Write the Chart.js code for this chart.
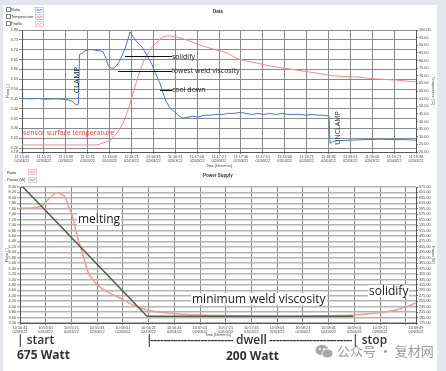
<!DOCTYPE html>
<html><head><meta charset="utf-8">
<script src="https://cdn.jsdelivr.net/npm/chart.js@4"></script>
<style>
html,body{margin:0;padding:0;background:#e3e6ea;width:446px;height:371px;overflow:hidden;position:relative;font-family:'Open Sans',sans-serif}
#panel{position:absolute;left:3px;top:5px;width:434px;height:366px;background:#fff}
canvas{position:absolute;left:0}
.t{position:absolute;white-space:nowrap;line-height:1;color:#1a1a1a}
.lg{position:absolute;font-family:'Liberation Sans',sans-serif;font-size:4px;color:#333;white-space:nowrap;line-height:1}
.cb{position:absolute;width:2.5px;height:2.5px;border:0.6px solid #888;background:#fff}
.ic{position:absolute}
.hl{position:absolute;height:1px;background:#111}
.wb{background:#fff;padding:0 1px}
.big{font-size:12px;color:#333}
.bold{font-weight:700}
.semi{font-weight:600}
.dash{position:absolute;overflow:hidden;white-space:nowrap;line-height:1;font-size:12px;color:#333;font-weight:600;letter-spacing:-0.5px}
</style>
</head><body>
<div id="panel"></div>
<canvas id="topChart" width="438" height="168" style="top:0"></canvas>
<canvas id="botChart" width="438" height="172" style="top:168px"></canvas>

<!-- top legend -->
<div class="cb" style="left:6px;top:7px"></div><div class="lg" style="left:11px;top:7.5px">Ratio</div>
<svg class="ic" style="left:35px;top:6.5px" width="9" height="6"><rect x="0.5" y="0.5" width="8" height="5" fill="#f4f7fc" stroke="#9fb2cf" stroke-width="0.6"/><polyline points="1.5,4 3,2 4.5,4 6,2 7.5,3" fill="none" stroke="#4a76d4" stroke-width="0.7"/></svg>
<div class="cb" style="left:6px;top:14px"></div><div class="lg" style="left:11px;top:14.5px">Temperature</div>
<svg class="ic" style="left:35px;top:13.5px" width="9" height="6"><rect x="0.5" y="0.5" width="8" height="5" fill="#fdf5f5" stroke="#d9a9a9" stroke-width="0.6"/><polyline points="1.5,4 3,2 4.5,4 6,2 7.5,3" fill="none" stroke="#ee7f7f" stroke-width="0.7"/></svg>
<div class="cb" style="left:6px;top:21px"></div><div class="lg" style="left:11px;top:21.5px">Profile</div>
<svg class="ic" style="left:35px;top:20.5px" width="9" height="6"><rect x="0.5" y="0.5" width="8" height="5" fill="#fdf5f8" stroke="#d9b0c0" stroke-width="0.6"/><polyline points="1.5,4 3,2 4.5,4 6,2 7.5,3" fill="none" stroke="#e9a0b8" stroke-width="0.7"/></svg>
<div class="lg" style="left:213px;top:10px;font-weight:700;font-size:4.5px">Data</div>

<!-- bottom legend -->
<div class="lg" style="left:7px;top:170.5px">Ratio</div>
<svg class="ic" style="left:28px;top:169px" width="9" height="6"><rect x="0.5" y="0.5" width="8" height="5" fill="#fdf5f5" stroke="#d9a9a9" stroke-width="0.6"/><polyline points="1.5,4 3,2 4.5,4 6,2 7.5,3" fill="none" stroke="#ee7f7f" stroke-width="0.7"/></svg>
<div class="lg" style="left:7px;top:178px">Power [W]</div>
<svg class="ic" style="left:28px;top:177px" width="9" height="6"><rect x="0.5" y="0.5" width="8" height="5" fill="#f5faf5" stroke="#a9c9a9" stroke-width="0.6"/><polyline points="1.5,4 3,2 4.5,4 6,2 7.5,3" fill="none" stroke="#6a9a6a" stroke-width="0.7"/></svg>
<div class="lg" style="left:203px;top:174px;font-weight:700;font-size:4.5px">Power Supply</div>

<!-- top annotations -->
<div class="hl" style="left:125px;top:56px;width:47px"></div>
<div class="t" style="left:172px;top:53px;font-size:7px">solidify</div>
<div class="hl" style="left:118px;top:70.5px;width:54px"></div>
<div class="t" style="left:172px;top:67px;font-size:7px">lowest weld viscosity</div>
<div class="hl" style="left:160px;top:89.5px;width:12px"></div>
<div class="t" style="left:172px;top:86px;font-size:7px">cool down</div>
<div class="t" style="left:75.5px;top:80px;font-size:8px;transform:translate(-50%,-50%) rotate(-90deg)">CLAMP</div>
<div class="t" style="left:337px;top:128px;font-size:7px;transform:translate(-50%,-50%) rotate(-90deg)">UNCLAMP</div>
<div class="t" style="left:23px;top:129px;font-size:7px;color:#ee3b3b">sensor surface temperature</div>

<!-- bottom annotations -->
<div class="t wb" style="left:77px;top:213px;font-size:12px">melting</div>
<div class="t wb" style="left:191px;top:293px;font-size:12px">minimum weld viscosity</div>
<div class="t wb" style="left:368px;top:285px;font-size:12px">solidify</div>

<div class="t big semi" style="left:17px;top:334px">| start</div>
<div class="t big bold" style="left:17px;top:349px">675 Watt</div>
<div class="t big semi" style="left:146px;top:334px">|</div>
<div class="dash" style="left:150px;top:334px;width:83px">--------------------------------------------</div>
<div class="t big semi" style="left:236px;top:334px">dwell</div>
<div class="dash" style="left:269px;top:334px;width:83px">--------------------------------------------</div>
<div class="t big semi" style="left:352px;top:334px">| stop</div>
<div class="t big bold" style="left:226px;top:350px">200 Watt</div>

<svg class="ic" style="left:315px;top:344px" width="19" height="15"><ellipse cx="7" cy="6" rx="6.5" ry="5.3" fill="#a6a6a6"/><ellipse cx="12.5" cy="9.5" rx="5.5" ry="4.5" fill="#a6a6a6" stroke="#fff" stroke-width="1"/><circle cx="5" cy="5" r="0.9" fill="#fff"/><circle cx="9" cy="5" r="0.9" fill="#fff"/></svg>
<div class="t" style="left:337px;top:344px;font-family:'Noto Sans CJK SC';font-size:13px;color:#9a9a9a">公众号 · 复材网</div>

<script>
// ---------- Top chart data ("Data") ----------
const topDate = '02/03/22';
const topTickSeconds = [0,15,30,45,60,75,90,105,120,135,150,165,180,195,210,225,240,255,270];
const topTimeLabels = ['11:15:06','11:15:21','11:15:36','11:15:51','11:16:06','11:16:21','11:16:36','11:16:51','11:17:06','11:17:21','11:17:36','11:17:51','11:18:06','11:18:21','11:18:36','11:18:51','11:19:06','11:19:21','11:19:36'];
const topRatioTicks = [3.18,3.20,3.25,3.30,3.35,3.40,3.45,3.50,3.55,3.60,3.65,3.70,3.75,3.80];
const topTempTicks = [20,25,30,35,40,45,50,55,60,65,70,75,80,85,90,95,100];
// [seconds, ratio]
const ratioSeries = [[0,3.452],[5.5,3.450],[11.0,3.452],[16.4,3.448],[21.9,3.450],[27.4,3.448],[31.5,3.445],[34.3,3.438],[36.3,3.424],[37.7,3.419],[38.7,3.424],[39.4,3.676],[41.1,3.681],[43.2,3.695],[45.2,3.700],[48.7,3.700],[51.4,3.695],[53.5,3.695],[55.5,3.690],[57.6,3.657],[58.9,3.619],[61.7,3.605],[63.7,3.610],[65.8,3.629],[67.8,3.657],[70.6,3.705],[72.6,3.752],[74.0,3.790],[76.1,3.767],[78.8,3.738],[82.2,3.714],[85.7,3.671],[89.1,3.624],[91.1,3.586],[94.6,3.529],[96.6,3.481],[98.7,3.438],[101.4,3.405],[104.2,3.386],[106.9,3.367],[110.3,3.352],[113.8,3.357],[117.2,3.362],[120.6,3.357],[124.7,3.367],[128.8,3.367],[132.9,3.371],[137.1,3.371],[141.2,3.376],[145.3,3.376],[149.4,3.381],[153.5,3.376],[157.6,3.371],[161.7,3.376],[165.8,3.371],[170.0,3.376],[174.1,3.371],[178.2,3.376],[182.3,3.371],[186.4,3.371],[190.5,3.371],[194.6,3.367],[198.7,3.371],[202.8,3.367],[207.0,3.367],[210.4,3.362],[211.1,3.224],[213.1,3.233],[216.6,3.238],[224.8,3.240],[235.1,3.243],[245.3,3.245],[255.6,3.243],[262.5,3.243],[270.0,3.240]];
// [seconds, °C]
const tempSeries = [[0,24.6],[26.0,24.6],[50.0,24.6],[55.5,25.9],[60.3,27.9],[65.1,32.5],[69.2,39.0],[72.6,47.5],[74.7,54.1],[76.8,60.7],[78.8,67.2],[82.9,78.4],[87.7,86.9],[92.5,92.1],[96.6,95.4],[101.4,96.1],[106.2,95.4],[113.1,93.4],[122.0,90.2],[130.9,87.5],[140.5,84.9],[146.7,81.6],[160.4,78.4],[174.1,75.7],[187.8,73.8],[201.5,71.8],[215.2,69.8],[228.9,69.2],[242.6,67.9],[256.3,67.2],[270.0,65.9]];

// ---------- Bottom chart data ("Power Supply") ----------
const botDate = '02/03/22';
const botTickSeconds = [0,20,40,60,80,100,120,140,160,180,200,220,240,260,280,300,308];
const botTimeLabels = ['10:54:41','10:55:01','10:55:21','10:55:41','10:56:01','10:56:21','10:56:41','10:57:01','10:57:21','10:57:41','10:58:01','10:58:21','10:58:41','10:59:01','10:59:21','','10:59:49'];
const botRatioTicks = [3.40,3.60,3.80,4.00,4.20,4.40,4.60,4.80,5.00,5.20,5.40,5.60,5.80,6.00,6.20,6.40,6.60,6.80,7.00,7.20,7.40,7.60,7.80,8.00,8.20,8.40];
const botPowerTicks = [175,195,215,235,255,275,295,315,335,355,375,395,415,435,455,475,495,515,535,555,575,595,615,635,655,675];
// [seconds, W]
const powerSeries = [[0,675],[2.3,675],[98.8,200],[259.1,200]];
// [seconds, ratio]
const botRatioSeries = [[0,7.63],[7.8,7.63],[17.1,7.70],[20.2,7.85],[23.3,8.00],[26.5,8.14],[28.8,8.20],[31.9,8.14],[35.0,8.03],[37.3,7.74],[40.5,7.37],[44.3,6.64],[48.2,6.02],[52.9,5.28],[56.8,4.98],[62.2,4.72],[70.0,4.50],[77.8,4.32],[87.9,4.06],[98.8,3.88],[114.4,3.77],[140.0,3.69],[171.2,3.66],[202.3,3.64],[233.4,3.66],[259.1,3.69],[277.0,3.77],[292.5,3.88],[301.9,4.02],[308.0,4.14]];

Chart.defaults.font.family = "'Liberation Sans', Arial, sans-serif";
Chart.defaults.color = '#444';

const pts = s => s.map(p => ({x:p[0], y:p[1]}));
const fixedTicks = vals => scale => { scale.ticks = vals.map(v => ({value:v})); };
const fixW = w => s => { s.width = w; };
const fixH = h => s => { s.height = h; };
const tickFont = {size:3.8};

new Chart(document.getElementById('topChart'), {
  type:'line',
  data:{datasets:[
    {label:'Ratio', data:pts(ratioSeries), yAxisID:'yR', borderColor:'#4a76d4', borderWidth:1, pointRadius:0, tension:0},
    {label:'Temperature', data:pts(tempSeries), yAxisID:'yT', borderColor:'#f08c8c', borderWidth:1, pointRadius:0, cubicInterpolationMode:'monotone'}
  ]},
  options:{
    responsive:false, animation:false, devicePixelRatio:1,
    layout:{padding:{top:30,left:0,right:0,bottom:0}},
    plugins:{legend:{display:false}, title:{display:false}, tooltip:{enabled:false}},
    scales:{
      x:{type:'linear', min:0, max:270, afterBuildTicks:fixedTicks(topTickSeconds), afterFit:fixH(16),
        ticks:{autoSkip:false, maxRotation:0, minRotation:0, padding:0.5, font:tickFont, color:'#444',
          callback:(v,i)=>[topTimeLabels[i], topDate]},
        grid:{color:'#8a8a8a', tickLength:2, lineWidth:1}, border:{color:'#555'},
        title:{display:true, text:'Time [hh:mm:ss]', font:{size:3.5}, padding:0, color:'#444'}},
      yR:{position:'left', min:3.18, max:3.80, afterBuildTicks:fixedTicks(topRatioTicks), afterFit:fixW(22),
        ticks:{autoSkip:false, font:tickFont, padding:1, color:'#444', callback:v=>v.toFixed(2)},
        grid:{color:'#8a8a8a', tickLength:3}, border:{color:'#555'},
        title:{display:true, text:'Ratio [-]', font:{size:3.8}, padding:{top:5.5,bottom:0}, color:'#444'}},
      yT:{position:'right', min:20, max:100, afterBuildTicks:fixedTicks(topTempTicks), afterFit:fixW(22),
        ticks:{autoSkip:false, font:tickFont, padding:1, color:'#444', callback:v=>v.toFixed(2)},
        grid:{drawOnChartArea:false, color:'#777', tickLength:2}, border:{color:'#555'},
        title:{display:true, text:'Temperature [°C]', font:{size:3.8}, padding:{top:3,bottom:0}, color:'#444'}}
    }
  }
});

new Chart(document.getElementById('botChart'), {
  type:'line',
  data:{datasets:[
    {label:'Power [W]', data:pts(powerSeries), yAxisID:'yP', borderColor:'#4e5e4c', borderWidth:1.5, pointRadius:0, tension:0},
    {label:'Ratio', data:pts(botRatioSeries), yAxisID:'yR', borderColor:'#f49a9a', borderWidth:1.5, pointRadius:0, cubicInterpolationMode:'monotone'}
  ]},
  options:{
    responsive:false, animation:false, devicePixelRatio:1,
    layout:{padding:{top:19,left:0,right:0,bottom:0}},
    plugins:{legend:{display:false}, title:{display:false}, tooltip:{enabled:false}},
    scales:{
      x:{type:'linear', min:0, max:308, afterBuildTicks:fixedTicks(botTickSeconds), afterFit:fixH(17),
        ticks:{autoSkip:false, maxRotation:0, minRotation:0, padding:0.5, font:tickFont, color:'#444',
          callback:(v,i)=> botTimeLabels[i] ? [botTimeLabels[i], botDate] : ''},
        grid:{color:'#8a8a8a', tickLength:2, lineWidth:1}, border:{color:'#555'},
        title:{display:true, text:'Time [hh:mm:ss]', font:{size:3.5}, padding:{top:0,bottom:3}, color:'#444'}},
      yR:{position:'left', min:3.40, max:8.40, afterBuildTicks:fixedTicks(botRatioTicks), afterFit:fixW(20),
        ticks:{autoSkip:false, font:tickFont, padding:1, color:'#444', callback:v=>v.toFixed(2)},
        grid:{color:'#b3b3b3', lineWidth:1.5, tickLength:3}, border:{color:'#555'},
        title:{display:true, text:'Ratio [-]', font:{size:3.8}, padding:{top:5,bottom:0}, color:'#444'}},
      yP:{position:'right', min:175, max:675, afterBuildTicks:fixedTicks(botPowerTicks), afterFit:fixW(22),
        ticks:{autoSkip:false, font:tickFont, padding:1, color:'#444', callback:v=>v.toFixed(2)},
        grid:{drawOnChartArea:false, color:'#777', tickLength:2}, border:{color:'#555'},
        title:{display:true, text:'Power [W]', font:{size:3.8}, padding:{top:3,bottom:0}, color:'#444'}}
    }
  }
});
</script>
</body></html>
